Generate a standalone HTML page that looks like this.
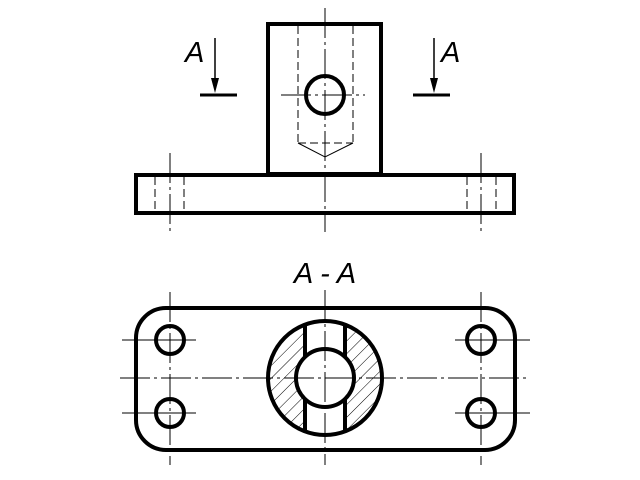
<!DOCTYPE html>
<html><head><meta charset="utf-8"><style>body{margin:0;background:#fff}svg{display:block}</style></head><body>
<svg width="640" height="480" viewBox="0 0 640 480" xmlns="http://www.w3.org/2000/svg">
<defs>
<pattern id="h" patternUnits="userSpaceOnUse" width="9" height="9" patternTransform="rotate(45)">
<line x1="0" y1="0" x2="0" y2="9" stroke="#000" stroke-width="1"/></pattern>
<clipPath id="ring"><circle cx="325" cy="378" r="57"/></clipPath>
</defs>
<g fill="none" stroke="#000">
<rect x="268" y="24" width="113" height="150" stroke-width="4"/>
<rect x="136" y="175" width="378" height="38" stroke-width="4"/>
<circle cx="325" cy="95" r="19" stroke-width="4"/>
<g stroke-width="1" stroke-dasharray="8,4">
<line x1="298" y1="26" x2="298" y2="143"/><line x1="353" y1="26" x2="353" y2="143"/>
<line x1="298" y1="143" x2="353" y2="143"/>
<line x1="155" y1="177" x2="155" y2="211"/><line x1="184" y1="177" x2="184" y2="211"/>
<line x1="467" y1="177" x2="467" y2="211"/><line x1="496" y1="177" x2="496" y2="211"/>
</g>
<polyline points="298,143 325,157 353,143" stroke-width="1"/>
<g stroke-width="1" stroke-dasharray="30,4,3,4">
<line x1="325" y1="8" x2="325" y2="232"/>
<line x1="170" y1="153" x2="170" y2="232"/>
<line x1="481" y1="153" x2="481" y2="232"/>
<line x1="281" y1="95" x2="365" y2="95"/>
</g>
<line x1="200" y1="95" x2="237" y2="95" stroke-width="3"/>
<line x1="413" y1="95" x2="450" y2="95" stroke-width="3"/>
<line x1="215" y1="38" x2="215" y2="82" stroke-width="1.5"/>
<line x1="434" y1="38" x2="434" y2="82" stroke-width="1.5"/>
<rect x="136" y="308" width="379" height="142" rx="30" stroke-width="4"/>
<rect x="268" y="320" width="114" height="116" fill="url(#h)" stroke="none" clip-path="url(#ring)"/>
<rect x="305" y="318" width="40" height="122" fill="#fff" stroke="none"/>
<circle cx="325" cy="378" r="57" stroke-width="4"/>
<circle cx="325" cy="378" r="29" stroke-width="4" fill="#fff"/>
<line x1="305" y1="324" x2="305" y2="357" stroke-width="4"/>
<line x1="345" y1="324" x2="345" y2="357" stroke-width="4"/>
<line x1="305" y1="399" x2="305" y2="432" stroke-width="4"/>
<line x1="345" y1="399" x2="345" y2="432" stroke-width="4"/>
<g stroke-width="4">
<circle cx="170" cy="340" r="14"/><circle cx="170" cy="413" r="14"/>
<circle cx="481" cy="340" r="14"/><circle cx="481" cy="413" r="14"/>
</g>
<g stroke-width="1" stroke-dasharray="30,4,3,4">
<line x1="120" y1="378" x2="530" y2="378"/>
<line x1="325" y1="290" x2="325" y2="465"/>
<line x1="170" y1="292" x2="170" y2="465"/>
<line x1="481" y1="292" x2="481" y2="465"/>
</g>
<g stroke-width="1">
<line x1="122" y1="340" x2="196" y2="340"/><line x1="122" y1="413" x2="196" y2="413"/>
<line x1="455" y1="340" x2="530" y2="340"/><line x1="455" y1="413" x2="530" y2="413"/>
</g>
</g>
<polygon points="211,78 219,78 215,93" fill="#000"/>
<polygon points="430,78 438,78 434,93" fill="#000"/>
<g font-family="Liberation Sans, sans-serif" font-style="italic" font-size="29" fill="#000">
<text x="185" y="62">A</text>
<text x="441" y="62">A</text>
<text x="325" y="283" text-anchor="middle">A - A</text>
</g>
</svg>
</body></html>
